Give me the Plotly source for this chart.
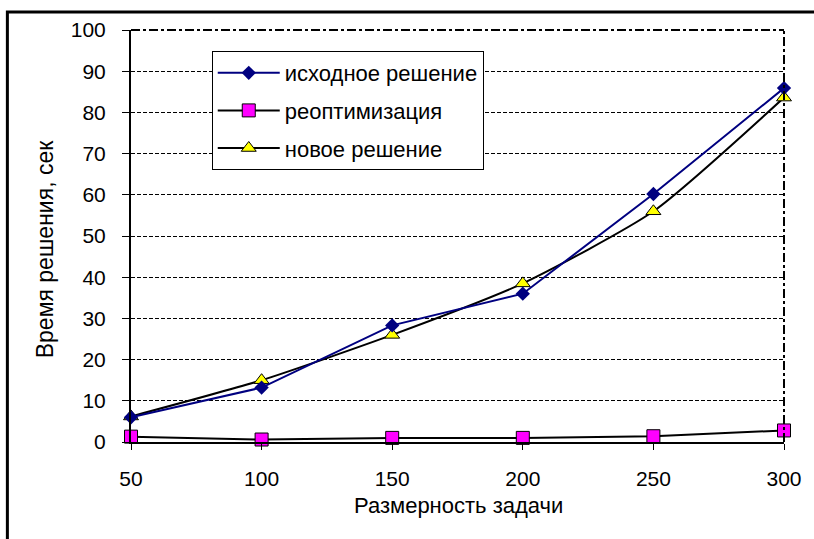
import plotly.graph_objects as go

sizes = [50, 100, 150, 200, 250, 300]
ishodnoe = [6.0, 13.2, 28.3, 36.0, 60.2, 85.9]
reopt = [1.3, 0.6, 1.0, 1.0, 1.4, 2.8]
novoe = [6.2, 15.0, 26.0, 38.5, 56.0, 83.6]
y_ticks = [0, 10, 20, 30, 40, 50, 60, 70, 80, 90, 100]
names = ["исходное решение", "реоптимизация", "новое решение"]
x_title = "Размерность задачи"
y_title = "Время решения, сек"

FONT = "Liberation Sans, Arial, sans-serif"

fig = go.Figure()
fig.add_trace(go.Scatter(
    x=sizes, y=novoe, name=names[2], mode="lines+markers",
    line=dict(color="black", width=2, shape="spline", smoothing=0.6),
    marker=dict(symbol="triangle-up", size=13, color="#FFFF00",
                line=dict(color="black", width=1)),
    cliponaxis=False, legendrank=3, legendgroup="c"))
fig.add_trace(go.Scatter(
    x=sizes, y=reopt, name=names[1], mode="lines+markers",
    line=dict(color="black", width=2),
    marker=dict(symbol="square", size=13, color="#FF00FF",
                line=dict(color="black", width=1)),
    cliponaxis=False, legendrank=2, legendgroup="b"))
fig.add_trace(go.Scatter(
    x=sizes, y=ishodnoe, name=names[0], mode="lines+markers",
    line=dict(color="#000080", width=2),
    marker=dict(symbol="diamond", size=11, color="#000080"),
    cliponaxis=False, legendrank=1, legendgroup="a"))

W, H = 814, 539
L, R, T, B = 131, 786, 30, 442
pw, ph = R - L, B - T

def px(xp):
    return (xp - L) / pw

def py(yp):
    return (B - yp) / ph

shapes = [
    dict(type="rect", xref="paper", yref="paper",
         x0=px(7), x1=px(830), y0=py(560), y1=py(12),
         line=dict(color="black", width=3), layer="below"),
    dict(type="line", xref="paper", yref="paper", x0=0, x1=1, y0=1, y1=1,
         line=dict(color="black", width=2, dash="dashdot")),
    dict(type="line", xref="paper", yref="paper", x0=1, x1=1, y0=0, y1=1,
         line=dict(color="black", width=2, dash="dashdot")),
]

fig.update_layout(
    width=W, height=H,
    margin=dict(l=L, r=W - R, t=T, b=H - B, pad=0),
    paper_bgcolor="white", plot_bgcolor="white",
    font=dict(family=FONT, color="black", size=21),
    showlegend=True,
    legend=dict(
        x=px(212), y=py(51), xanchor="left", yanchor="top",
        bordercolor="black", borderwidth=1, bgcolor="white",
        font=dict(size=22, family=FONT, color="black"),
        itemwidth=62, tracegroupgap=6, traceorder="grouped",
    ),
    xaxis=dict(
        range=[50, 300], tickvals=sizes, ticktext=[str(v) for v in sizes],
        showgrid=False, zeroline=False,
        showline=True, linecolor="black", linewidth=2,
        ticks="outside", ticklen=6, tickwidth=1, tickcolor="black",
        ticklabelstandoff=11,
        tickfont=dict(size=21, family=FONT, color="black"),
    ),
    yaxis=dict(
        range=[0, 100], tickvals=y_ticks,
        showgrid=True, gridcolor="black", gridwidth=1, griddash="4px,2px",
        zeroline=False,
        showline=True, linecolor="black", linewidth=2,
        ticks="outside", ticklen=7, tickwidth=1, tickcolor="black",
        ticklabelstandoff=12,
        tickfont=dict(size=21, family=FONT, color="black"),
    ),
    shapes=shapes,
    annotations=[
        dict(text=x_title, xref="paper", yref="paper", x=px(460), y=py(505),
             xanchor="center", yanchor="middle", showarrow=False,
             font=dict(size=22, family=FONT, color="black")),
        dict(text=y_title, xref="paper", yref="paper", x=px(45), y=py(249),
             xanchor="center", yanchor="middle", showarrow=False, textangle=-90,
             font=dict(size=23, family=FONT, color="black")),
    ],
)

fig.write_html("out.html")
